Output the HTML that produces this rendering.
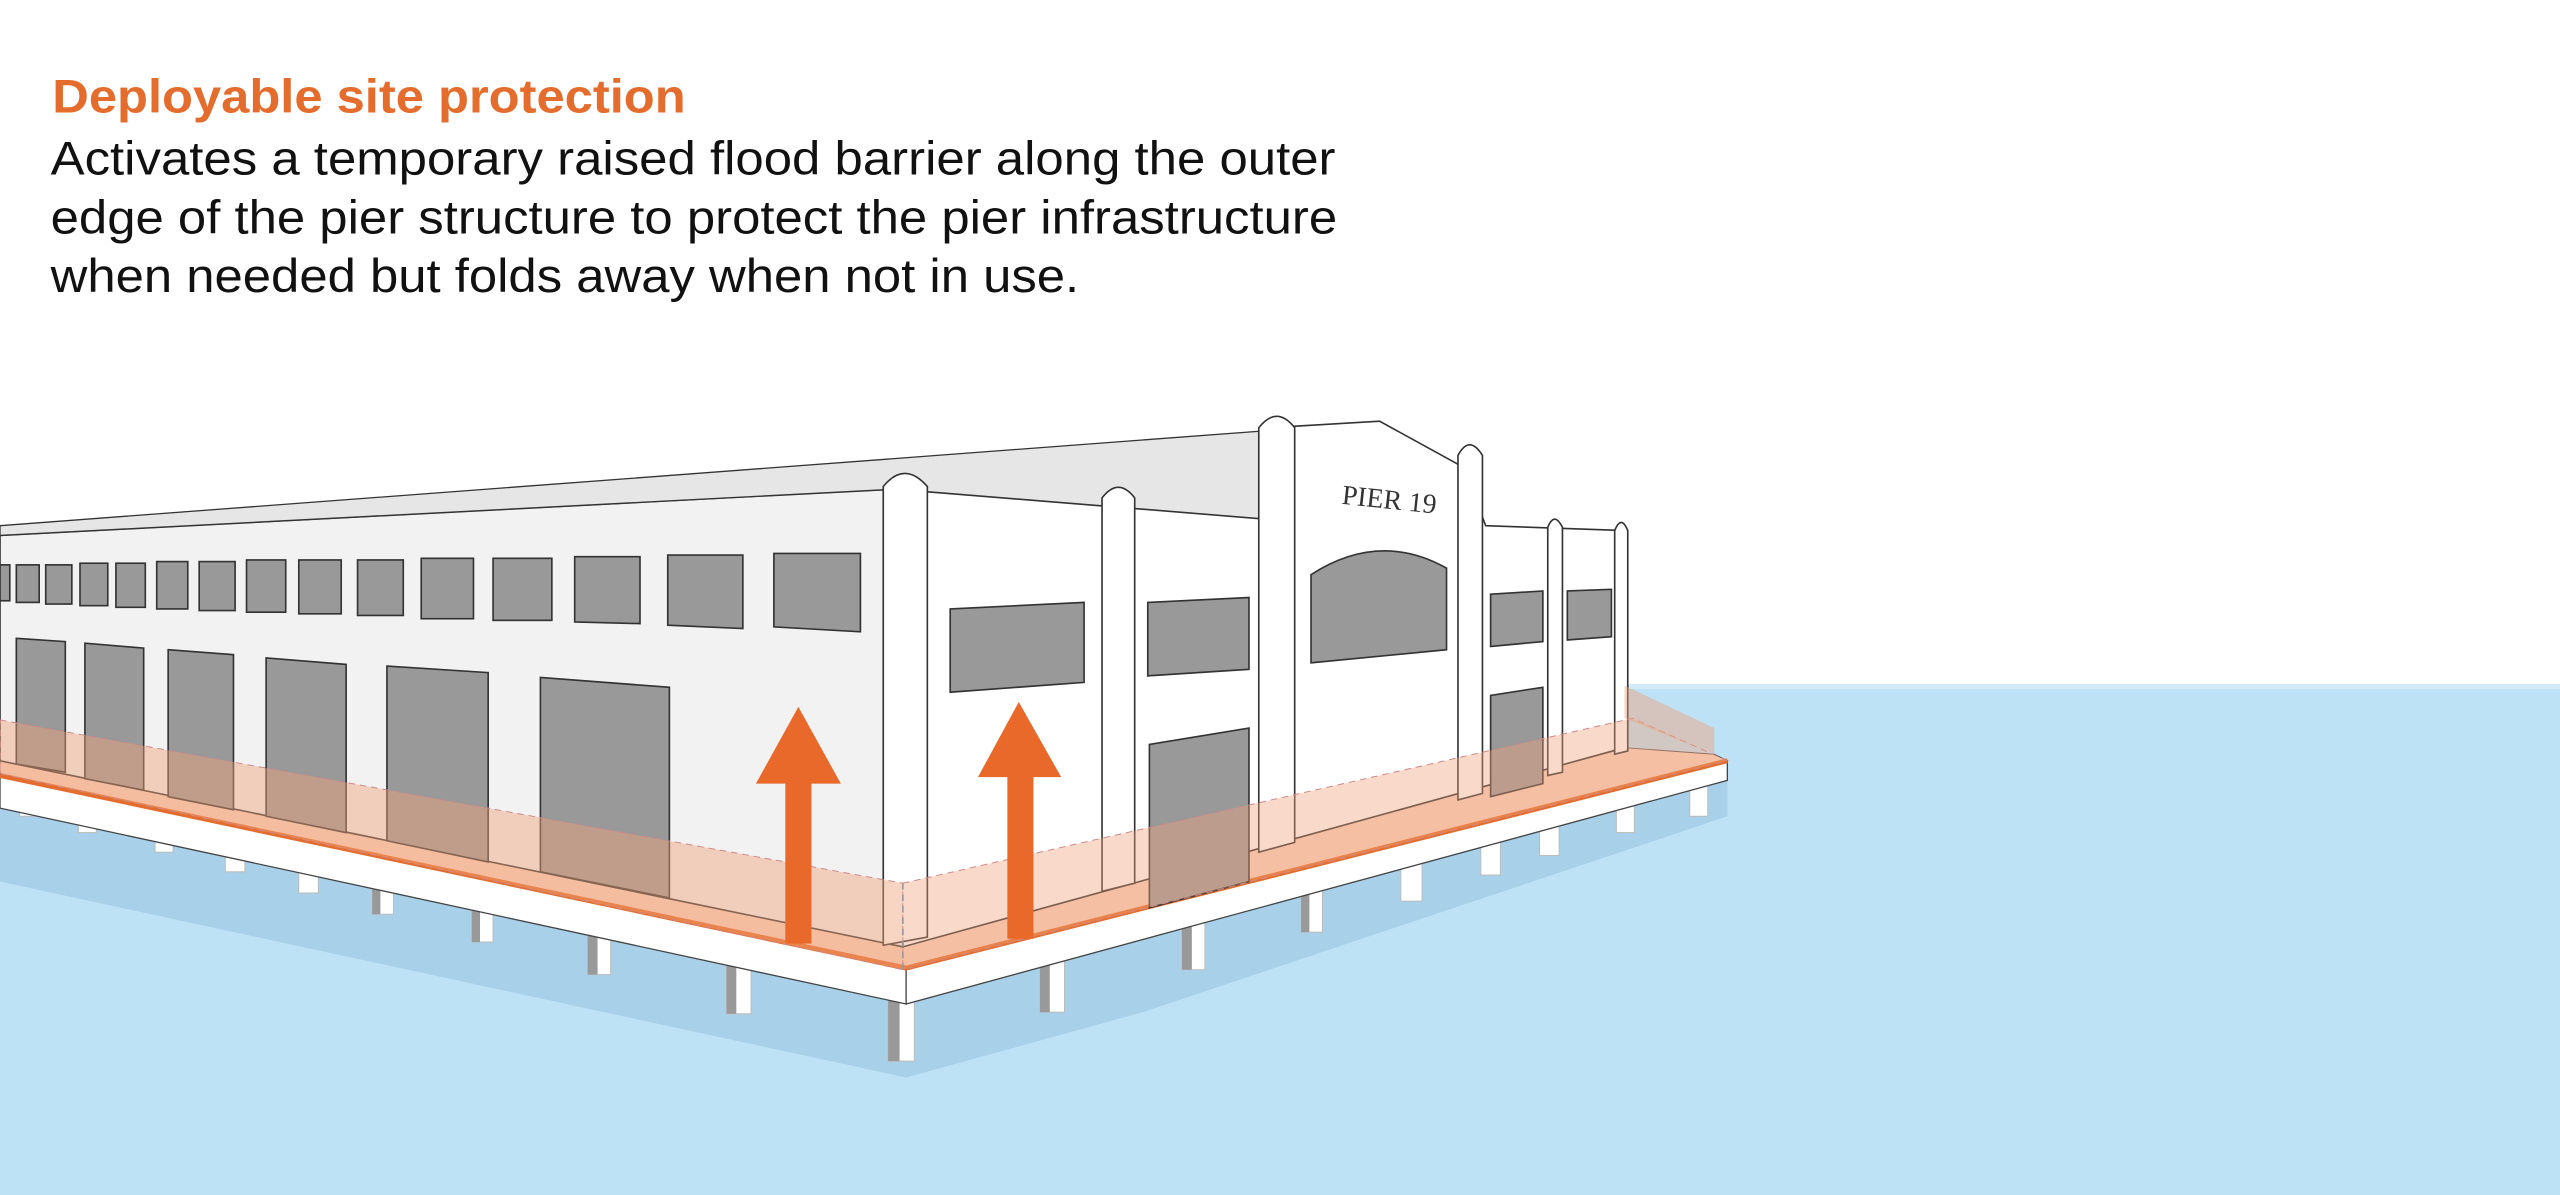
<!DOCTYPE html>
<html><head><meta charset="utf-8"><style>
html,body{margin:0;padding:0;background:#fff;}
svg{display:block;}
</style></head><body>
<svg width="2560" height="1195" viewBox="0 0 1568 732" preserveAspectRatio="none" xmlns="http://www.w3.org/2000/svg">
<rect x="0" y="0" width="1568" height="732" fill="#fff"/>
<rect x="0" y="421" width="1568" height="311" fill="#bde1f5"/>
<rect x="995" y="419" width="573" height="3" fill="#d2ebf8"/>
<!-- shadow under pier -->
<polygon points="0,492 555,612 1058,478 1058,500 700,620 555,660 0,540" fill="#a9d0e9"/>
<!-- pilings -->
<g fill="#fff" stroke="#bbb" stroke-width="0.6">
<rect x="12" y="486" width="10" height="14"/><rect x="48" y="494" width="11" height="16"/>
<rect x="95" y="504" width="11" height="18"/><rect x="138" y="514" width="12" height="20"/>
<rect x="183" y="524" width="12" height="23"/><rect x="228" y="534" width="13" height="26"/>
<rect x="289" y="547" width="13" height="30"/><rect x="360" y="562" width="14" height="35"/>
<rect x="445" y="581" width="15" height="40"/><rect x="544" y="603" width="16" height="47"/>
<rect x="637" y="582" width="15" height="38"/><rect x="724" y="560" width="14" height="34"/>
<rect x="797" y="541" width="13" height="30"/><rect x="858" y="525" width="13" height="27"/>
<rect x="907" y="512" width="12" height="24"/><rect x="943" y="502" width="12" height="22"/>
<rect x="990" y="490" width="11" height="20"/><rect x="1035" y="478" width="11" height="22"/>
</g>
<g fill="#999">
<rect x="544" y="603" width="7" height="47"/><rect x="445" y="581" width="6" height="40"/><rect x="360" y="562" width="6" height="35"/>
<rect x="289" y="547" width="5" height="30"/><rect x="228" y="534" width="5" height="26"/>
<rect x="637" y="582" width="6" height="38"/><rect x="724" y="560" width="6" height="34"/><rect x="797" y="541" width="5" height="30"/>
</g>
<!-- deck faces -->
<polygon points="0,475 555,592 555,615 0,495" fill="#fff" stroke="#444" stroke-width="0.8"/>
<polygon points="555,592 1058,466 1058,478 555,615" fill="#fff" stroke="#444" stroke-width="0.8"/>
<!-- deck top -->
<polygon points="0,466 553,580 995,458 1050,462 1058,466 555,592 0,475" fill="#f7d3bf" stroke="#555" stroke-width="0.6"/>
<polyline points="0,475 555,593 1058,466" fill="none" stroke="#e46c2c" stroke-width="3"/>
<!-- building left face -->
<polygon points="0,328 541,300 553,580 0,466" fill="#f2f2f2" stroke="#333" stroke-width="1"/>
<!-- roof -->
<polygon points="0,328 0,322 840,259 845,258 780,268 775,318 541,300" fill="#e6e6e6" stroke="#333" stroke-width="0.8"/>
<!-- front face -->
<polygon points="553,300 775,318 778,262 845,258 896,286 910,322 995,325 995,458 553,580" fill="#fff" stroke="#333" stroke-width="1"/>
<g fill="#999" stroke="#333" stroke-width="1">
<rect x="0" y="346" width="6" height="22"/><rect x="10" y="346" width="14" height="23"/>
<rect x="28" y="346" width="16" height="24"/><rect x="49" y="345" width="17" height="26"/>
<rect x="71" y="345" width="18" height="27"/><rect x="96" y="344" width="19" height="29"/>
<rect x="122" y="344" width="22" height="30"/><rect x="151" y="343" width="24" height="32"/>
<rect x="183" y="343" width="26" height="33"/><rect x="219" y="343" width="28" height="34"/>
<rect x="258" y="342" width="32" height="37"/><rect x="302" y="342" width="36" height="38"/>
<polygon points="352,341 392,341 392,382 352,381"/><polygon points="409,340 455,340 455,385 409,383"/>
<polygon points="474,339 527,339 527,387 474,384"/>
<polygon points="10,391 40,393 40,473 10,468"/>
<polygon points="52,394 88,397 88,484 52,477"/>
<polygon points="103,398 143,401 143,496 103,488"/>
<polygon points="163,403 212,407 212,510 163,500"/>
<polygon points="237,408 299,412 299,528 237,515"/>
<polygon points="331,415 410,421 410,550 331,534"/>
<polygon points="582,373 664,369 664,418 582,424"/>
<polygon points="703,369 765,366 765,410 703,414"/>
<path d="M803,352 Q845,325 886,348 L886,398 L803,406 Z"/>
<polygon points="913,364 945,362 945,393 913,396"/>
<polygon points="960,362 987,361 987,390 960,392"/>
<polygon points="704,456 765,446 765,540 704,556"/>
<polygon points="913,426 945,421 945,480 913,488"/>
</g>
<!-- pilasters -->
<g fill="#fff" stroke="#333" stroke-width="1">
<path d="M541,298 Q554,282 568,298 L568,574 L541,579 Z"/>
<path d="M675,305 Q685,292 695,305 L695,541 L675,546 Z"/>
<path d="M771,262 Q782,248 793,262 L793,516 L771,522 Z"/>
<path d="M893,279 Q900,266 908,279 L908,486 L893,490 Z"/>
<path d="M948,323 Q952,313 957,323 L957,473 L948,475 Z"/>
<path d="M989,325 Q993,315 997,325 L997,460 L989,462 Z"/>
</g>
<text x="822" y="311" font-family="Liberation Serif, serif" font-size="17" fill="#333" transform="rotate(6 845 305)">PIER 19</text>
<!-- barrier -->
<polygon points="0,441 553,541 553,594 0,474" fill="#f0a27a" fill-opacity="0.45" stroke="#c88" stroke-width="0.6" stroke-dasharray="4,3"/>
<polygon points="553,541 1000,440 1058,466 553,594" fill="#f0a27a" fill-opacity="0.4" stroke="#c88" stroke-width="0.6" stroke-dasharray="4,3"/>
<polygon points="995,420 1050,446 1050,462 995,440" fill="#f0a27a" fill-opacity="0.45"/>
<line x1="553" y1="541" x2="553" y2="594" stroke="#999" stroke-dasharray="4,3"/>
<g fill="#e8692a">
<polygon points="481,480 463,480 489,433 515,480 497,480 497,578 481,578"/>
<polygon points="617,476 599,476 624,430 650,476 633,476 633,575 617,575"/>
</g>
<text x="32" y="69" font-family="Liberation Sans, sans-serif" font-weight="bold" font-size="29" fill="#e46c2c" textLength="388" lengthAdjust="spacingAndGlyphs">Deployable site protection</text>
<g font-family="Liberation Sans, sans-serif" font-size="29" fill="#111">
<text x="31" y="107" textLength="787" lengthAdjust="spacingAndGlyphs">Activates a temporary raised flood barrier along the outer</text>
<text x="31" y="143" textLength="788" lengthAdjust="spacingAndGlyphs">edge of the pier structure to protect the pier infrastructure</text>
<text x="31" y="179" textLength="630" lengthAdjust="spacingAndGlyphs">when needed but folds away when not in use.</text>
</g>
</svg>
</body></html>
